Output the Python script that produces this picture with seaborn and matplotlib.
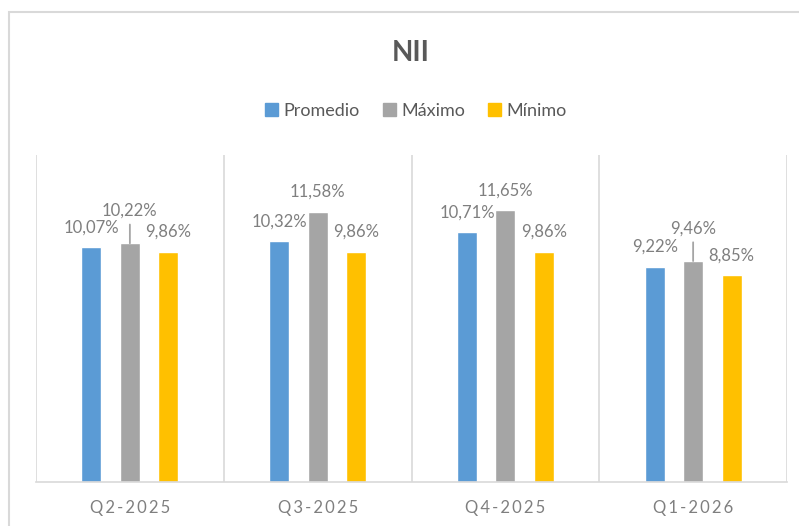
import matplotlib
matplotlib.use("Agg")
import matplotlib.pyplot as plt
import seaborn as sns
import pandas as pd
from matplotlib.patches import Rectangle

# ---- data ----
periods = ["Q2-2025", "Q3-2025", "Q4-2025", "Q1-2026"]
series = ["Promedio", "Máximo", "Mínimo"]
promedio = [10.07, 10.32, 10.71, 9.22]
maximo = [10.22, 11.58, 11.65, 9.46]
minimo = [9.86, 9.86, 9.86, 8.85]
title = "NII"

# ---- style ----
colors = ["#5B9BD5", "#A5A5A5", "#FFC000"]
raised = {("Q2-2025", "Máximo"), ("Q1-2026", "Máximo")}

sns.set_theme(style="white")
plt.rcParams["font.family"] = ["Lato", "DejaVu Sans"]

df = pd.DataFrame({
    "Periodo": periods * 3,
    "Serie": [s for s in series for _ in periods],
    "Valor": promedio + maximo + minimo,
})

fig = plt.figure(figsize=(7.99, 5.26), dpi=100)
ax = fig.add_axes([36 / 799, 44 / 526, (787 - 36) / 799, (482 - 155) / 526])

sns.barplot(data=df, x="Periodo", y="Valor", hue="Serie", order=periods,
            hue_order=series, palette=colors, width=0.614, gap=0.48,
            saturation=1, ax=ax, legend=False, errorbar=None)

ax.set_ylim(0, 14)
ax.set_xlim(-0.5, len(periods) - 0.5)
ax.set_yticks([])
ax.set_ylabel("")
ax.set_xlabel("")
for s in ["top", "left", "right"]:
    ax.spines[s].set_visible(False)
ax.spines["bottom"].set_color("#D9D9D9")
ax.spines["bottom"].set_linewidth(1.2)

for b in range(len(periods) + 1):
    ax.axvline(b - 0.5, color="#D9D9D9", lw=1.2, zorder=0)

spaced = ["\u2009".join(list(p)) for p in periods]
ax.set_xticks(range(len(periods)))
ax.set_xticklabels(spaced, fontsize=12, color="#7F7F7F")
ax.tick_params(axis="x", length=0, pad=13)

# data labels
for si, cont in enumerate(ax.containers):
    for pi, bar in enumerate(cont):
        h = bar.get_height()
        xc = bar.get_x() + bar.get_width() / 2
        lab = f"{h:.2f}%".replace(".", ",")
        if (periods[pi], series[si]) in raised:
            off = 20
            ax.annotate("", xy=(xc, h), xytext=(0, 13.5), textcoords="offset points",
                        arrowprops=dict(arrowstyle="-", color="#A5A5A5", lw=1.3,
                                        shrinkA=0, shrinkB=0))
        else:
            off = 10.5
        ax.annotate(lab, xy=(xc, h), xytext=(0, off), textcoords="offset points",
                    ha="center", va="baseline", fontsize=12, color="#7F7F7F")

# title and legend
fig.text(411 / 799, 1 - 53 / 526, title, ha="center", va="center",
         fontsize=20, fontweight="bold", color="#595959")
handles = [Rectangle((0, 0), 1, 1, color=c) for c in colors]
fig.legend(handles, series, loc="center", bbox_to_anchor=(416 / 799, 1 - 111 / 526),
           ncol=3, frameon=False, fontsize=13, handlelength=0.7, handleheight=0.7,
           handletextpad=0.3, columnspacing=1.3, labelcolor="#595959")

# chart border
fig.add_artist(Rectangle((9 / 799, -0.05), 1.2, 1 - 12 / 526 + 0.05,
                         transform=fig.transFigure, fill=False,
                         edgecolor="#D9D9D9", lw=1.5))

fig.savefig("out.png", dpi=100, facecolor="white")
